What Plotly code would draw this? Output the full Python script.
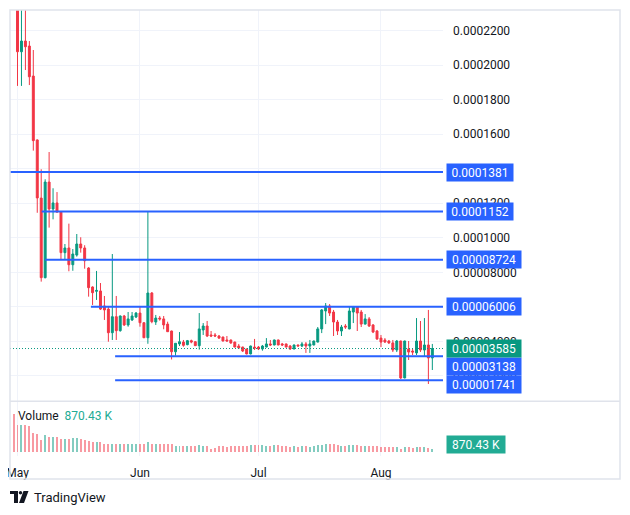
import pandas as pd
import plotly.graph_objects as go

# ---------------- data (prices in units of 1e-5) ----------------
PRICE_UNIT = 1e-5
dates = pd.date_range("2024-04-30", "2024-08-14", freq="D")

open_ = [26.0,
         24.6, 20.78, 21.40, 21.11, 19.37, 15.67, 12.30, 7.69, 13.23, 11.67, 12.02, 11.49, 9.14, 9.41, 8.44, 9.00,
         9.64, 9.41, 8.25, 7.15, 6.90, 6.92, 6.05, 5.87, 4.50, 5.43, 4.62, 5.47, 4.95, 5.24, 5.41,
         5.64, 5.08, 4.21, 6.80, 5.12, 5.35, 5.30, 5.00, 4.60, 3.40, 3.85, 3.96, 3.81, 4.04, 3.98, 3.75,
         4.66, 4.89, 4.37, 4.37, 4.31, 4.25, 4.08, 4.08, 3.96, 3.73, 3.67, 3.56, 3.27, 3.67,
         3.67, 3.56, 3.67, 3.85, 3.79, 4.08, 3.85, 3.85, 3.73, 3.56, 3.79, 3.73, 3.85, 3.73, 3.79, 3.96,
         4.72, 5.76, 6.05, 5.70, 5.12, 4.60, 4.89, 4.72, 5.70, 5.99, 5.70, 5.00, 5.30, 4.95, 4.60,
         4.19, 4.08, 4.02, 3.91, 3.50, 4.02, 1.88, 3.56, 3.44, 3.33, 4.02, 3.50, 3.79, 3.04]
high = [27.5,
        25.0, 24.0, 23.5, 21.40, 20.88, 15.70, 13.97, 13.39, 14.97, 12.87, 12.65, 11.52, 9.64, 10.82, 9.35, 10.22,
        10.03, 9.57, 8.30, 7.19, 8.08, 7.38, 6.63, 6.05, 9.06, 6.63, 5.50, 5.53, 5.70, 5.70, 5.70,
        6.05, 5.10, 11.52, 6.86, 5.53, 5.47, 5.47, 5.14, 4.62, 3.90, 4.54, 4.08, 4.08, 4.10, 4.00, 5.64,
        5.06, 5.18, 4.60, 4.48, 4.37, 4.27, 4.31, 4.10, 3.98, 3.85, 3.69, 3.58, 3.75, 4.14,
        3.73, 3.79, 4.19, 4.08, 4.10, 4.10, 3.91, 3.87, 3.79, 3.81, 3.81, 3.96, 3.96, 4.08, 4.04, 4.83,
        5.87, 6.22, 6.16, 5.82, 5.24, 4.95, 5.00, 5.99, 6.05, 6.01, 5.82, 5.58, 5.41, 5.00, 4.66,
        4.37, 4.19, 4.08, 4.08, 4.08, 4.04, 4.04, 4.02, 3.56, 5.35, 5.18, 5.35, 5.82, 3.85]
low = [23.8,
       18.8, 18.8, 19.72, 18.85, 15.05, 11.45, 7.46, 7.65, 10.59, 11.07, 11.45, 8.71, 8.75, 8.06, 8.09, 8.91,
       9.14, 8.21, 6.59, 6.11, 6.40, 5.82, 5.24, 3.98, 4.08, 4.08, 4.56, 4.89, 4.85, 5.18, 5.35,
       4.85, 4.19, 3.86, 5.05, 4.95, 5.20, 4.70, 4.56, 2.95, 3.17, 3.73, 3.69, 3.77, 3.89, 3.73, 3.52,
       4.37, 4.25, 4.25, 4.25, 4.14, 4.00, 4.00, 3.85, 3.65, 3.56, 3.38, 3.25, 3.25, 3.50,
       3.50, 3.46, 3.65, 3.73, 3.77, 3.77, 3.73, 3.65, 3.50, 3.54, 3.71, 3.67, 3.33, 3.33, 3.77, 3.94,
       4.48, 5.00, 5.47, 4.31, 4.37, 4.31, 4.72, 4.70, 5.06, 4.60, 4.83, 4.98, 4.83, 4.48, 4.08,
       3.67, 3.91, 3.85, 3.38, 3.38, 1.82, 1.86, 2.92, 3.21, 3.21, 3.38, 3.15, 1.53, 2.34]
close = [24.6,
         20.78, 21.40, 21.07, 19.33, 15.63, 12.31, 7.69, 13.23, 11.67, 12.02, 11.49, 9.14, 9.41, 8.44, 9.06, 9.64,
         9.41, 8.67, 7.11, 6.82, 6.95, 5.87, 5.82, 4.50, 5.43, 4.62, 5.47, 4.95, 5.30, 5.47, 5.64,
         5.08, 4.21, 6.80, 5.14, 5.35, 5.30, 4.95, 4.56, 3.40, 3.89, 3.98, 3.77, 4.04, 3.96, 3.75, 4.72,
         4.89, 4.31, 4.31, 4.31, 4.19, 4.02, 4.02, 3.91, 3.67, 3.62, 3.44, 3.27, 3.73, 3.62,
         3.56, 3.73, 3.85, 3.79, 4.08, 3.79, 3.79, 3.67, 3.56, 3.79, 3.73, 3.85, 3.73, 3.85, 4.02, 4.72,
         5.82, 6.05, 5.64, 5.12, 4.60, 4.83, 4.83, 5.76, 5.99, 5.64, 5.00, 5.30, 4.89, 4.54, 4.14,
         3.96, 3.96, 3.91, 3.50, 4.02, 1.88, 4.02, 3.38, 3.38, 4.02, 3.50, 3.79, 3.04, 3.585]
# volume in thousands
volume_k = [10940,
            7750, 7750, 7750, 7340, 5510, 5020, 3480, 4840, 4260, 4260, 4260, 3770, 3770, 3770, 3970, 3970,
            3770, 3280, 3190, 2810, 2810, 2810, 2320, 2320, 2320, 2320, 2320, 2320, 2320, 2320, 2320,
            2320, 2120, 2810, 2320, 2320, 2320, 2320, 2120, 2120, 1650, 1650, 1650, 1650, 1650, 1650, 1940,
            1650, 1650, 870, 1160, 1650, 1650, 1360, 1650, 1650, 1650, 1650, 1650, 1940, 1940,
            1940, 1940, 1650, 1650, 1940, 1940, 1650, 1650, 1360, 1650, 1360, 1650, 1650, 1360, 1650, 1940,
            1940, 2230, 2230, 2230, 1940, 1650, 1650, 1940, 1940, 1940, 1650, 1650, 1650, 1650, 1650,
            1360, 1360, 1360, 1360, 1360, 870, 1360, 1360, 1070, 1360, 1360, 1360, 1070, 870.43]

level_values = [0.0001381, 0.0001152, 0.00008724, 0.00006006, 0.00003138, 0.00001741]
level_labels = ["0.0001381", "0.0001152", "0.00008724", "0.00006006", "0.00003138", "0.00001741"]
level_starts = [None, "2024-05-07 03:00", "2024-05-08 00:00", "2024-05-19 14:00",
                "2024-05-25 17:00", "2024-05-25 17:00"]
last_price = 0.00003585
last_price_label = "0.00003585"
last_volume_label = "870.43 K"

price_tickvals = [0.00002, 0.00004, 0.00006, 0.00008, 0.00010, 0.00012, 0.00014, 0.00016, 0.00018, 0.00020, 0.00022]
price_ticktext = ["0.00002000", "0.00004000", "0.00006000", "0.00008000", "0.0001000", "0.0001200",
                  "0.0001400", "0.0001600", "0.0001800", "0.0002000", "0.0002200"]
month_ticks = ["2024-05-01", "2024-06-01", "2024-07-01", "2024-08-01"]
month_labels = ["May", "Jun", "Jul", "Aug"]

assert len(dates) == len(open_) == len(high) == len(low) == len(close) == len(volume_k)

o = [v * PRICE_UNIT for v in open_]
h = [v * PRICE_UNIT for v in high]
l = [v * PRICE_UNIT for v in low]
c = [v * PRICE_UNIT for v in close]

# ---------------- layout geometry ----------------
# The page body adds an 8px offset, so margins are reduced by 8 px.
W, H = 630, 515
BODY = 8
ML, MT = 10 - BODY, 10 - BODY
MR = W - (620 - BODY)
MB = H - (479 - BODY)
PW, PH = 610, 469


def px(x):  # page pixel x -> paper fraction
    return (x - 10) / PW


def py(y):  # page pixel y -> paper fraction
    return (479 - y) / PH


UP, DOWN = "#089981", "#F23645"
UP_V, DOWN_V = "rgba(8,153,129,0.5)", "rgba(242,54,69,0.5)"
BLUE = "#2962FF"
GRID = "#F0F3FA"
TXT = "#131722"
FONT = "Roboto, 'Liberation Sans', sans-serif"

x_start = pd.Timestamp("2024-05-01") - pd.Timedelta(days=1.9)
x_end = pd.Timestamp("2024-05-01") + pd.Timedelta(days=107.7)
y_range = [(410.4 - 401) / 1726000, (410.4 - 10) / 1726000]

fig = go.Figure()
fig.add_trace(go.Candlestick(
    x=dates, open=o, high=h, low=l, close=c,
    increasing=dict(line=dict(color=UP, width=1), fillcolor=UP),
    decreasing=dict(line=dict(color=DOWN, width=1), fillcolor=DOWN),
    whiskerwidth=0, showlegend=False, hoverinfo="skip",
    xaxis="x", yaxis="y"))

vol_colors = [UP_V if cc >= oo else DOWN_V for oo, cc in zip(open_, close)]
fig.add_trace(go.Bar(
    x=dates, y=volume_k, marker=dict(color=vol_colors, line=dict(width=0)),
    width=0.5 * 86400000, showlegend=False, hoverinfo="skip",
    xaxis="x2", yaxis="y2"))

shapes = []
annotations = []

for val, lab, st in zip(level_values, level_labels, level_starts):
    x0 = x_start if st is None else pd.Timestamp(st)
    shapes.append(dict(type="line", xref="x", yref="y", x0=x0, x1=x_end, y0=val, y1=val,
                       line=dict(color=BLUE, width=2), layer="above"))

shapes.append(dict(type="line", xref="x", yref="y", x0=x_start, x1=x_end, y0=last_price, y1=last_price,
                   line=dict(color=UP, width=1, dash="1px,2px"), layer="above"))

yshifts = [0, 0, 0, 0, -10, -4]
for val, lab, ys in zip(level_values, level_labels, yshifts):
    annotations.append(dict(x=px(446), xref="paper", y=val, yref="y", xanchor="left", yanchor="middle",
                            text=lab, showarrow=False, bgcolor=BLUE, borderpad=1, yshift=ys,
                            width=64 if len(lab) == 9 else 72, height=15,
                            font=dict(color="white", size=12, family=FONT)))
annotations.append(dict(x=px(446), xref="paper", y=last_price, yref="y", xanchor="left", yanchor="middle",
                        text=last_price_label, showarrow=False, bgcolor=UP, borderpad=1,
                        width=72, height=15, font=dict(color="white", size=12, family=FONT)))

annotations.append(dict(x=px(16), xref="paper", y=py(416), yref="paper", xanchor="left", yanchor="middle",
                        text="Volume  <span style='color:#22AB94'>" + last_volume_label + "</span>",
                        showarrow=False, font=dict(color=TXT, size=12, family=FONT)))
annotations.append(dict(x=px(446), xref="paper", y=volume_k[-1], yref="y2", xanchor="left", yanchor="middle",
                        text=last_volume_label, showarrow=False, bgcolor="#22AB94", borderpad=1,
                        width=56, height=15, yshift=4,
                        font=dict(color="white", size=12, family=FONT)))

annotations.append(dict(x=px(32), xref="paper", y=py(497), yref="paper", xanchor="left", yanchor="middle",
                        text="TradingView", showarrow=False, font=dict(color=TXT, size=13, family=FONT)))


def rect(x0, y0, x1, y1, color, **kw):
    d = dict(type="rect", xref="paper", yref="paper", x0=px(x0), x1=px(x1), y0=py(y0), y1=py(y1),
             fillcolor=color, line=dict(width=0), layer="above")
    d.update(kw)
    return d


# logo
shapes.append(rect(10, 491, 18, 494, TXT))
shapes.append(rect(14, 491, 18, 503, TXT))
shapes.append(dict(type="circle", xref="paper", yref="paper", x0=px(18.8), x1=px(22.2), y0=py(491), y1=py(494.4),
                   fillcolor=TXT, line=dict(width=0)))
shapes.append(dict(type="path", xref="paper", yref="paper",
                   path="M {} {} L {} {} L {} {} L {} {} Z".format(px(23.5), py(491), px(28.5), py(491),
                                                                   px(24), py(503), px(19), py(503)),
                   fillcolor=TXT, line=dict(width=0)))

# frame and pane separator
shapes.append(dict(type="rect", xref="paper", yref="paper", x0=0, x1=1, y0=0, y1=1,
                   line=dict(color="#E0E3EB", width=1.5), fillcolor="rgba(0,0,0,0)", layer="above"))
shapes.append(dict(type="line", xref="paper", yref="paper", x0=0, x1=1, y0=py(401.3), y1=py(401.3),
                   line=dict(color="#E0E3EB", width=1.5), layer="above"))

fig.update_layout(
    width=W, height=H, margin=dict(l=ML, r=MR, t=MT, b=MB, autoexpand=False),
    paper_bgcolor="white", plot_bgcolor="white",
    font=dict(family=FONT, color=TXT, size=12),
    showlegend=False, shapes=shapes, annotations=annotations, bargap=0,
    xaxis=dict(domain=[0, px(443)], anchor="y", range=[x_start, x_end], type="date",
               tickvals=month_ticks, ticktext=month_labels, showticklabels=False, automargin=False,
               showgrid=True, gridcolor=GRID, gridwidth=1, zeroline=False, showline=False,
               rangeslider=dict(visible=False), fixedrange=True),
    yaxis=dict(domain=[py(401), 1], anchor="x", side="right", range=y_range, automargin=False,
               tickvals=price_tickvals, ticktext=price_ticktext, ticklabelstandoff=9,
               showgrid=True, gridcolor=GRID, gridwidth=1, zeroline=False, showline=False,
               tickfont=dict(size=12, color=TXT, family=FONT)),
    xaxis2=dict(domain=[0, px(443)], anchor="y2", matches="x", type="date", automargin=False,
                tickvals=month_ticks, ticktext=month_labels, showgrid=True, gridcolor=GRID,
                zeroline=False, showline=False, ticks="", ticklabelstandoff=8,
                ticklabeloverflow="allow",
                tickfont=dict(size=12, color=TXT, family=FONT), rangeslider=dict(visible=False)),
    yaxis2=dict(domain=[py(456), py(402)], anchor="x2", side="right", automargin=False,
                range=[-(456 - 451.7) * 290.14, (451.7 - 402) * 290.14],
                showticklabels=False, showgrid=False, zeroline=False, showline=False),
)

fig.write_html("out.html", config={"displayModeBar": False})
